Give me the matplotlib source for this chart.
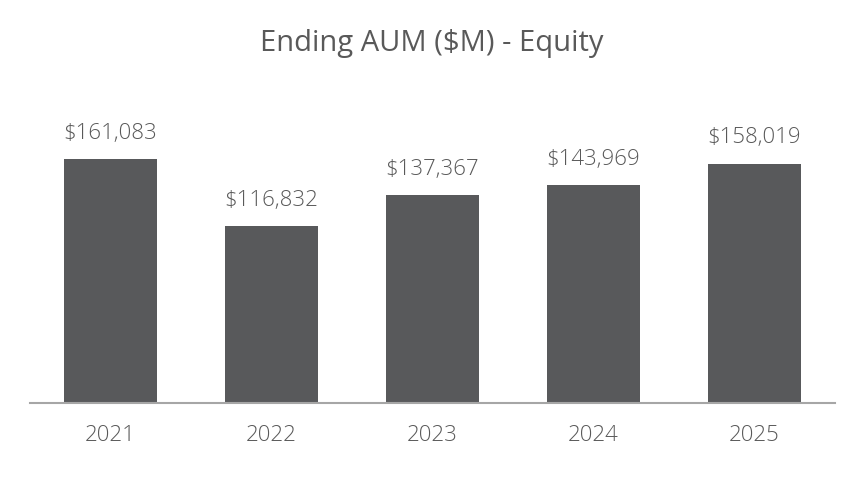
import matplotlib.pyplot as plt

# Datos
years = ['2021', '2022', '2023', '2024', '2025']
aum = [161083, 116832, 137367, 143969, 158019]

bar_color = '#58595b'
text_color = '#595959'

plt.rcParams['font.family'] = ['Open Sans', 'DejaVu Sans']

fig = plt.figure(figsize=(8.64, 4.8), dpi=100)
ax = fig.add_axes([30 / 864, 1 - 403 / 480, 805 / 864, 303 / 480])

x = range(len(years))
bars = ax.bar(x, aum, width=0.58, color=bar_color)

ax.set_xlim(-0.5, len(years) - 0.5)
ax.set_ylim(0, 200000)

for b, v in zip(bars, aum):
    ax.annotate(f'${v:,}', (b.get_x() + b.get_width() / 2, v),
                xytext=(0, 11), textcoords='offset points',
                ha='center', va='bottom', fontsize=16, color=text_color,
                fontweight='light')

ax.set_xticks(list(x))
ax.set_xticklabels(years, fontsize=16, color=text_color, fontweight='light')
ax.tick_params(axis='x', length=0, pad=16)
ax.set_yticks([])

for s in ['top', 'right', 'left']:
    ax.spines[s].set_visible(False)
ax.spines['bottom'].set_color('#a6a6a6')
ax.spines['bottom'].set_linewidth(1.5)

fig.text(0.5, 1 - 44 / 480, 'Ending AUM ($M) - Equity', ha='center', va='center',
         fontsize=21, color=text_color)

fig.savefig('out.png', dpi=100)
